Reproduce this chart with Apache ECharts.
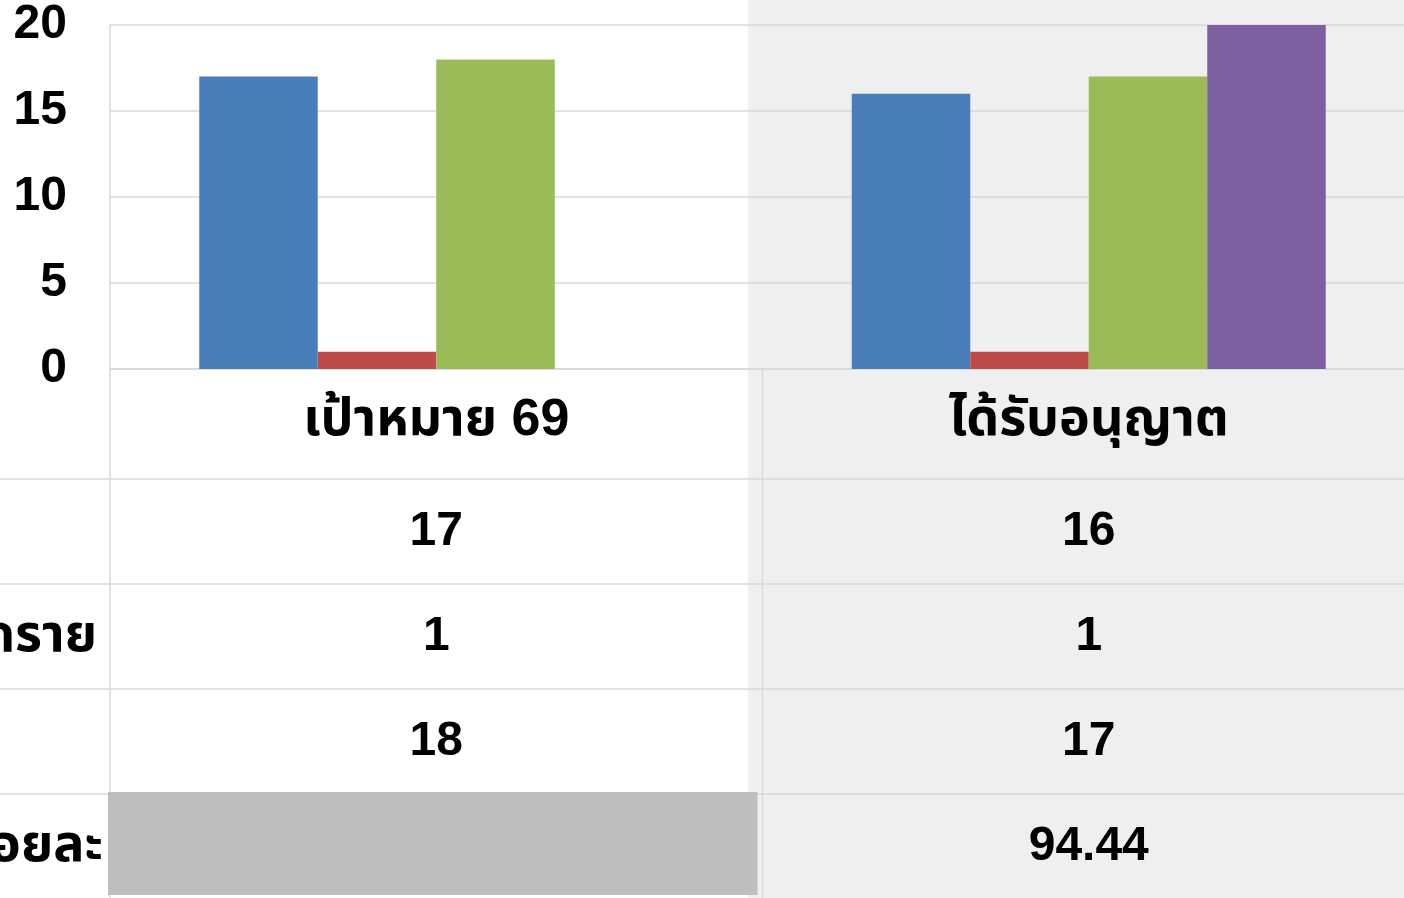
<!DOCTYPE html>
<html>
<head>
<meta charset="utf-8">
<title>chart</title>
<script src="https://cdn.jsdelivr.net/npm/echarts@6/dist/echarts.min.js"></script>
<style>
html,body{margin:0;padding:0;background:#fff;overflow:hidden;}
#main{width:1404px;height:898px;}
</style>
</head>
<body>
<div id="main"></div>
<script>
/****
 * ข้อมูลกราฟ
 */
var categories=['เป้าหมาย 69','ได้รับอนุญาต'];
var rowLabels=['จำนวนทั้งหมด','ยกเลิกราย','คงเหลือ','ร้อยละ'];
var seriesA=[17,16];
var seriesB=[1,1];
var seriesC=[18,17];
var seriesD=[null,94.44];
var colors=['#4a7ebb','#be4b48','#9bbb59','#7d60a0'];

var font="'Liberation Sans','Noto Sans Thai','Noto Sans',sans-serif";
var lineColor='#d9d9d9';

var chart=echarts.init(document.getElementById('main'));

function barSeries(name,data,color){
	return {
		name:name,
		type:'bar',
		data:data,
		barWidth:118.5,
		barGap:'0%',
		itemStyle:{color:color},
		z:3
	};
}

var option={
	animation:false,
	backgroundColor:'#fff',
	grid:{left:110,top:25,width:1305,height:344,outerBoundsMode:'none',containLabel:false},
	xAxis:{
		type:'category',
		data:categories,
		axisLine:{show:true,lineStyle:{color:lineColor,width:1.5}},
		axisTick:{show:false},
		axisLabel:{margin:52,verticalAlign:'middle',fontSize:52,fontWeight:'bold',color:'#000',fontFamily:font}
	},
	yAxis:{
		type:'value',
		min:0,
		max:20,
		interval:5,
		axisLine:{show:true,lineStyle:{color:lineColor,width:1.5}},
		axisTick:{show:false},
		splitLine:{lineStyle:{color:lineColor,width:1.5}},
		axisLabel:{margin:43,fontSize:48,fontWeight:'bold',color:'#000',fontFamily:font}
	},
	series:[
		barSeries(rowLabels[0],seriesA,colors[0]),
		barSeries(rowLabels[1],seriesB,colors[1]),
		barSeries(rowLabels[2],seriesC,colors[2]),
		barSeries(rowLabels[3],seriesD,colors[3])
	]
};
chart.setOption(option);

/****
 * ตารางข้อมูลใต้กราฟ
 */
function drawTable(){
	var rows=[seriesA,seriesB,seriesC,seriesD];
	var rowY=[532,637,742,847];
	var rowLines=[479,584,689,794];
	var labelEnd=[-20,97,-20,103];
	var c0=chart.convertToPixel({xAxisIndex:0},0);
	var c1=chart.convertToPixel({xAxisIndex:0},1);
	var bw=c1-c0;
	var els=[];
	//พื้นหลังสีเทา
	els.push({type:'rect',silent:true,z:-10,shape:{x:748,y:0,width:700,height:898},style:{fill:'#efefef'}});
	for(var r=0;r<rowLines.length;r++){
		els.push({type:'line',silent:true,shape:{x1:0,y1:rowLines[r],x2:1404,y2:rowLines[r]},style:{stroke:lineColor,lineWidth:1.5}});
	}
	els.push({type:'line',silent:true,shape:{x1:110,y1:369,x2:110,y2:898},style:{stroke:lineColor,lineWidth:1.5}});
	els.push({type:'line',silent:true,shape:{x1:c0+bw/2,y1:369,x2:c0+bw/2,y2:898},style:{stroke:lineColor,lineWidth:1.5}});
	for(var i=0;i<rows.length;i++){
		els.push({type:'text',silent:true,style:{text:rowLabels[i],x:labelEnd[i],y:rowY[i],textAlign:'right',textVerticalAlign:'middle',font:'bold 52px '+font,fill:'#000'}});
		for(var j=0;j<categories.length;j++){
			var cx=chart.convertToPixel({xAxisIndex:0},j);
			var v=rows[i][j];
			if(v==null){
				els.push({type:'rect',silent:true,z:1,shape:{x:cx-bw/2-2,y:rowLines[3]-2,width:bw-3,height:103},style:{fill:'#bebebe'}});
			}else{
				els.push({type:'text',silent:true,z:2,style:{text:String(v),x:cx,y:rowY[i],textAlign:'center',textVerticalAlign:'middle',font:'bold 48px '+font,fill:'#000'}});
			}
		}
	}
	chart.setOption({graphic:{elements:els}});
}
drawTable();
</script>
</body>
</html>
